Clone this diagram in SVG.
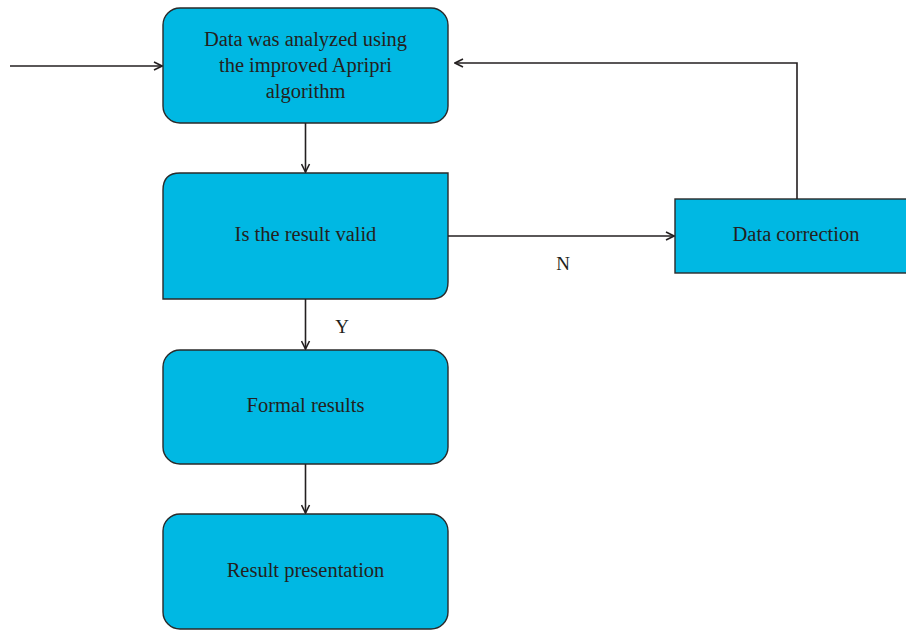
<svg xmlns="http://www.w3.org/2000/svg" width="906" height="631" viewBox="0 0 906 631">
<style>
.box{fill:#00B8E3;stroke:#2a2a2a;stroke-width:1.4}
.t{font-family:"Liberation Serif",serif;font-size:20.5px;fill:#231f20;text-anchor:middle}
.c{fill:none;stroke:#231f20;stroke-width:1.6}
</style>
<defs>
<marker id="arr" viewBox="0 0 10 10" refX="9" refY="5" markerWidth="10" markerHeight="10" markerUnits="userSpaceOnUse" orient="auto">
<path d="M1,1 L9,5 L1,9" fill="none" stroke="#231f20" stroke-width="1.6"/>
</marker>
</defs>
<rect width="906" height="631" fill="#fff"/>
<g id="n1">
<rect class="box" x="163" y="8" width="285" height="115" rx="17"/>
<text class="t" x="305.5" y="46">Data was analyzed using</text>
<text class="t" x="305.5" y="72">the improved Apripri</text>
<text class="t" x="305.5" y="98">algorithm</text>
</g>
<g id="n2">
<path class="box" d="M180,173 H448 V282 Q448,299 431,299 H163 V190 Q163,173 180,173 Z"/>
<text class="t" x="305.5" y="241">Is the result valid</text>
</g>
<g id="n3">
<rect class="box" x="163" y="350" width="285" height="114" rx="17"/>
<text class="t" x="305.5" y="412">Formal results</text>
</g>
<g id="n4">
<rect class="box" x="163" y="514" width="285" height="115" rx="17"/>
<text class="t" x="305.5" y="577">Result presentation</text>
</g>
<g id="n5">
<rect class="box" x="675" y="199" width="232" height="74"/>
<text class="t" x="796" y="241">Data correction</text>
</g>
<g id="connectors">
<path class="c" d="M10,66 H162" marker-end="url(#arr)"/>
<path class="c" d="M305.5,123 V172" marker-end="url(#arr)"/>
<path class="c" d="M448,236 H674" marker-end="url(#arr)"/>
<path class="c" d="M797,199 V63 H455" marker-end="url(#arr)"/>
<path class="c" d="M305.5,299 V349" marker-end="url(#arr)"/>
<path class="c" d="M305.5,464 V513" marker-end="url(#arr)"/>
<text class="t" x="563" y="270" style="font-size:19px">N</text>
<text class="t" x="342" y="333" style="font-size:19px">Y</text>
</g>
</svg>
